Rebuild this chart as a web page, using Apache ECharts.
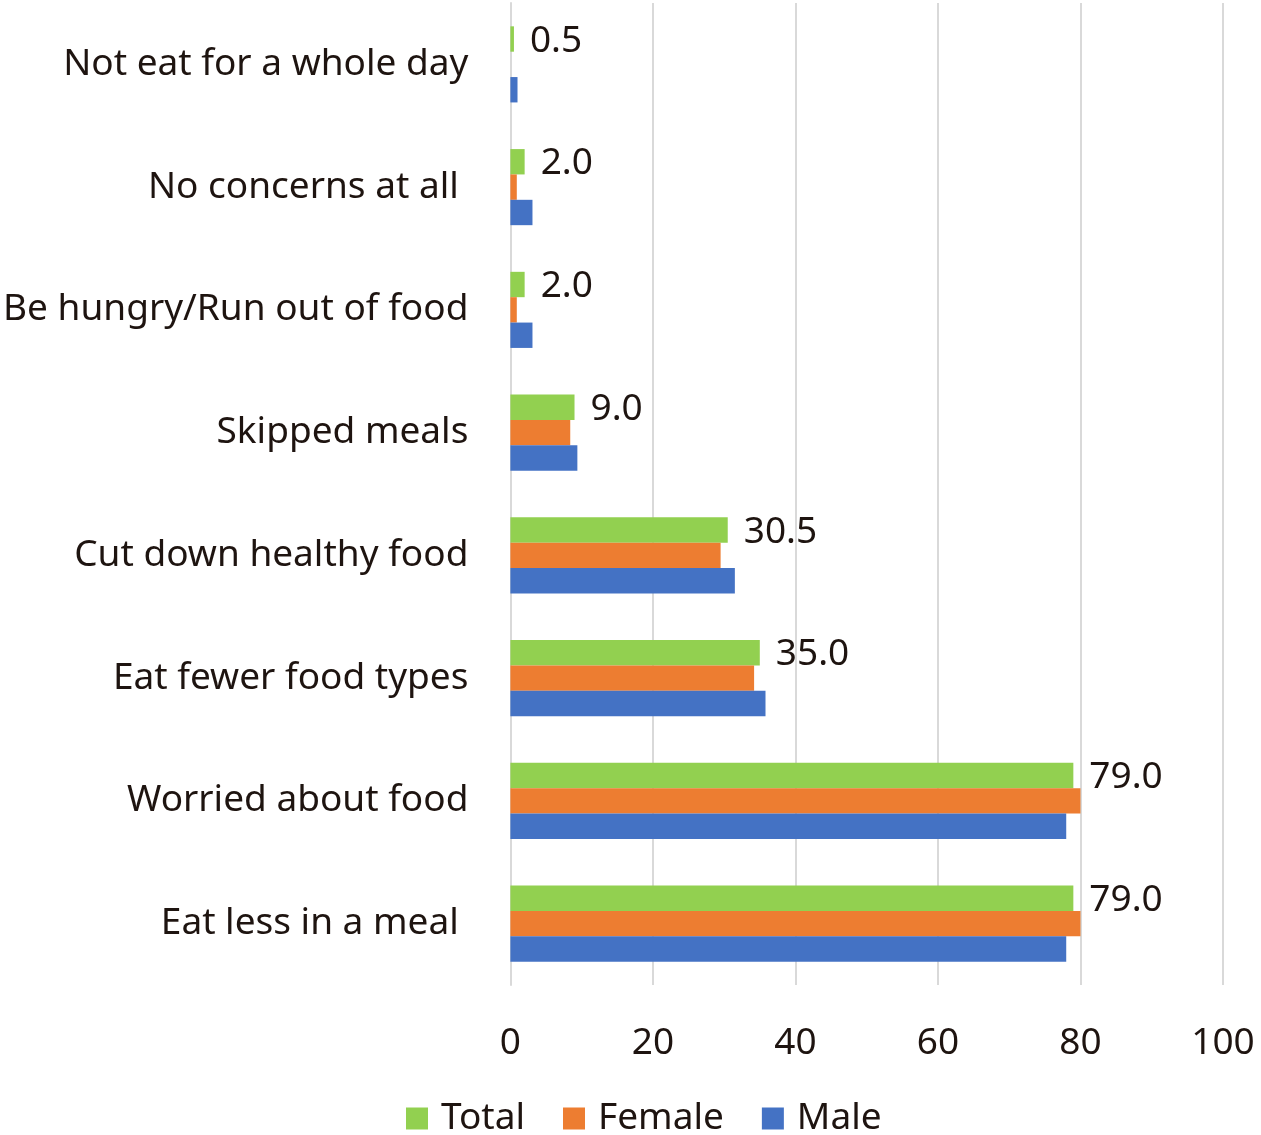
<!DOCTYPE html>
<html>
<head>
<meta charset="utf-8">
<script src="https://cdn.jsdelivr.net/npm/echarts@6/dist/echarts.min.js"></script>
<style>
  html, body { margin: 0; padding: 0; background: #fff; }
  #chart { width: 1261px; height: 1135px; }
</style>
</head>
<body>
<div id="chart"></div>
<script>
// Food insecurity experiences (%), by sex
const categories = [
  'Not eat for a whole day',
  'No concerns at all ',
  'Be hungry/Run out of food',
  'Skipped meals',
  'Cut down healthy food',
  'Eat fewer food types',
  'Worried about food',
  'Eat less in a meal '
];
const totalValues  = [0.5, 2.0, 2.0, 9.0, 30.5, 35.0, 79.0, 79.0];
const femaleValues = [0, 0.9, 0.9, 8.4, 29.5, 34.2, 80.0, 80.0];
const maleValues   = [1.0, 3.1, 3.1, 9.4, 31.5, 35.8, 78.0, 78.0];
const xTicks = [0, 20, 40, 60, 80, 100];

const FONT = 'Noto Sans';
const TEXT = '#1e1410';
const FS = 37;

const chart = echarts.init(document.getElementById('chart'), null, { renderer: 'canvas' });

chart.setOption({
  animation: false,
  textStyle: { fontFamily: FONT },
  grid: { left: 508, right: 38, top: 3, bottom: 150, containLabel: false },
  legend: {
    data: ['Total', 'Female', 'Male'],
    bottom: -7,
    left: 401,
    itemWidth: 22,
    itemHeight: 22,
    itemGap: 38,
    icon: 'rect',
    textStyle: { fontFamily: FONT, fontSize: FS, color: TEXT, padding: [0, 0, 0, 8] }
  },
  xAxis: {
    type: 'value',
    min: xTicks[0],
    max: xTicks[xTicks.length - 1],
    interval: 20,
    axisLine: { show: false },
    axisTick: { show: false },
    splitLine: { lineStyle: { color: '#d9d9d9', width: 2 } },
    axisLabel: { fontFamily: FONT, fontSize: FS, color: TEXT, margin: 40 }
  },
  yAxis: {
    type: 'category',
    inverse: true,
    data: categories,
    axisLine: { show: true, lineStyle: { color: '#d9d9d9', width: 2 } },
    axisTick: { show: false },
    axisLabel: { fontFamily: FONT, fontSize: FS, color: TEXT, margin: 42 }
  },
  series: [
    {
      name: 'Total', type: 'bar', data: totalValues,
      barGap: '0%', barCategoryGap: '38%',
      itemStyle: { color: '#92d050' },
      label: {
        show: true, position: 'right', distance: 16, offset: [0, 2],
        fontFamily: FONT, fontSize: FS, color: TEXT,
        formatter: p => p.value.toFixed(1)
      }
    },
    {
      name: 'Female', type: 'bar', data: femaleValues,
      barGap: '0%', barCategoryGap: '38%',
      itemStyle: { color: '#ed7d31' }
    },
    {
      name: 'Male', type: 'bar', data: maleValues,
      barGap: '0%', barCategoryGap: '38%',
      itemStyle: { color: '#4472c4' }
    }
  ]
});
</script>
</body>
</html>
